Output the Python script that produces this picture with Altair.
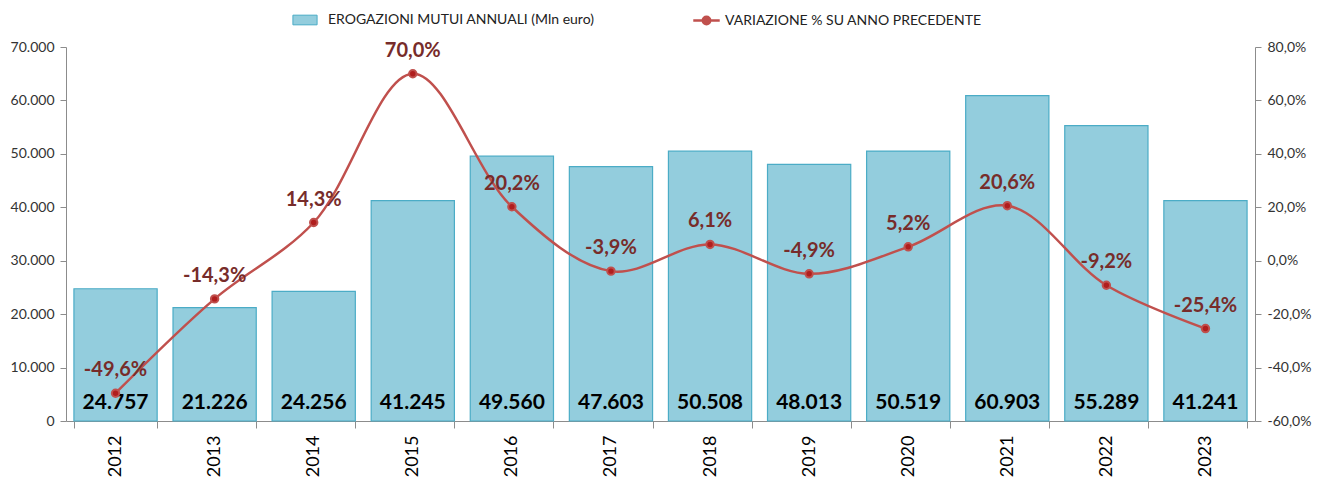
import altair as alt
import pandas as pd

anni = ["2012", "2013", "2014", "2015", "2016", "2017", "2018", "2019", "2020", "2021", "2022", "2023"]
erogazioni = [24757, 21226, 24256, 41245, 49560, 47603, 50508, 48013, 50519, 60903, 55289, 41241]
variazioni = [-49.6, -14.3, 14.3, 70.0, 20.2, -3.9, 6.1, -4.9, 5.2, 20.6, -9.2, -25.4]

LEG_BAR = "EROGAZIONI MUTUI ANNUALI (Mln euro)"
LEG_LINE = "VARIAZIONE % SU ANNO PRECEDENTE"

df = pd.DataFrame({"anno": anni, "mutui": erogazioni, "var": variazioni})
df["serie_b"] = LEG_BAR
df["serie_l"] = LEG_LINE

FONT = "Lato"
AXIS_GRAY = "#8C8C8C"
BAR_FILL = "#93CDDD"
BAR_STROKE = "#4BACC6"
LINE_RED = "#C0504D"
LABEL_RED = "#772C2A"

PCT_EXPR = "replace(replace(format({v}, '.1f'), '.', ','), '\u2212', '-') + '%'"

x_enc = alt.X(
    "anno:N",
    sort=anni,
    scale=alt.Scale(paddingInner=0.16, paddingOuter=0.08),
    axis=alt.Axis(
        title=None,
        labelAngle=-90,
        labelFontSize=18,
        labelColor="#000000",
        labelFont=FONT,
        labelPadding=7,
        labelBaseline="middle",
        tickBand="extent",
        tickSize=7,
        tickColor=AXIS_GRAY,
        domainColor=AXIS_GRAY,
        grid=False,
    ),
)

base = alt.Chart(df).encode(x=x_enc)

bars = base.mark_bar(stroke=BAR_STROKE, strokeWidth=1.2).encode(
    y=alt.Y(
        "mutui:Q",
        scale=alt.Scale(domain=[0, 70000], nice=False),
        axis=alt.Axis(
            title=None,
            values=list(range(0, 70001, 10000)),
            labelExpr="replace(format(datum.value, ','), ',', '.')",
            labelFontSize=14,
            labelFont=FONT,
            labelColor="#333333",
            tickColor=AXIS_GRAY,
            tickSize=6,
            domainColor=AXIS_GRAY,
            grid=False,
            labelPadding=6,
        ),
    ),
    fill=alt.Fill(
        "serie_b:N",
        scale=alt.Scale(domain=[LEG_BAR], range=[BAR_FILL]),
        legend=alt.Legend(
            title=None,
            orient="none",
            legendX=230,
            legendY=-36,
            symbolType="M-1.5,-0.6H1.5V0.6H-1.5Z",
            symbolSize=260,
            symbolStrokeColor=BAR_STROKE,
            symbolStrokeWidth=1,
            labelOffset=14,
            labelFontSize=14,
            labelFont=FONT,
            labelColor="#222222",
            labelLimit=400,
        ),
    ),
)

bar_text = base.mark_text(
    fontSize=21, fontWeight="bold", font=FONT, color="#000000", baseline="middle", dy=-18
).transform_calculate(
    lbl="replace(format(datum.mutui, ','), ',', '.')"
).encode(
    y=alt.Y(datum=0),
    text="lbl:N",
)

left = alt.layer(bars, bar_text)

y_right = alt.Y(
    "var:Q",
    scale=alt.Scale(domain=[-60, 80], nice=False),
    axis=alt.Axis(
        title=None,
        orient="right",
        values=list(range(-60, 81, 20)),
        labelExpr=PCT_EXPR.format(v="datum.value"),
        labelFontSize=14,
        labelFont=FONT,
        labelColor="#333333",
        tickColor=AXIS_GRAY,
        tickSize=6,
        domainColor=AXIS_GRAY,
        grid=False,
        labelPadding=6,
    ),
)

line = base.mark_line(interpolate="catmull-rom", strokeWidth=2.5).encode(
    y=y_right,
    stroke=alt.Stroke(
        "serie_l:N",
        scale=alt.Scale(domain=[LEG_LINE], range=[LINE_RED]),
        legend=alt.Legend(
            title=None,
            orient="none",
            legendX=626,
            legendY=-41,
            symbolType="M-1,0L1,0M-0.28,0A0.28,0.28 0 1,0 0.28,0A0.28,0.28 0 1,0 -0.28,0Z",
            symbolSize=700,
            symbolStrokeWidth=2.5,
            symbolFillColor=LINE_RED,
            labelFontSize=14,
            labelFont=FONT,
            labelColor="#222222",
            labelLimit=400,
        ),
    ),
)

points = base.mark_point(
    filled=True, size=55, fill="#B01E1E", stroke=LINE_RED, strokeWidth=2, opacity=1
).encode(y=alt.Y("var:Q"))

line_text = base.mark_text(
    fontSize=20, fontWeight="bold", font=FONT, color=LABEL_RED, baseline="middle", dy=-23
).transform_calculate(
    plbl=PCT_EXPR.format(v="datum.var")
).encode(
    y=alt.Y("var:Q"),
    text="plbl:N",
)

right = alt.layer(line, points, line_text)

chart = (
    alt.layer(left, right)
    .resolve_scale(y="independent")
    .properties(
        width=1189,
        height=374,
        autosize=alt.AutoSizeParams(type="none"),
        padding={"left": 66, "top": 47, "right": 67, "bottom": 60},
        background="white",
    )
    .configure_view(stroke=None)
)

chart.save("out.html", embed_options={"renderer": "svg", "actions": False})
